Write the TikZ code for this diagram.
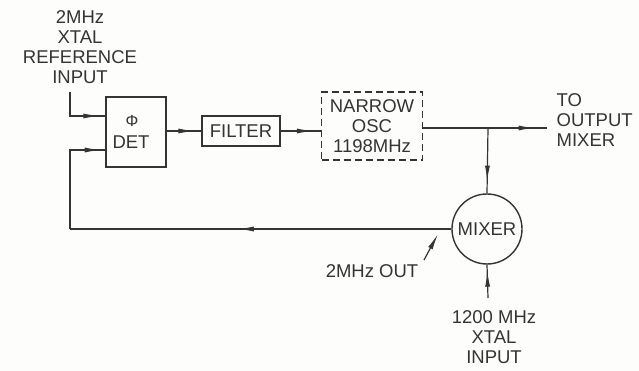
\documentclass[tikz,border=0pt]{standalone}
\usepackage{amsmath}
\usepackage{fontspec}
\setmainfont{Liberation Sans}
\usetikzlibrary{arrows.meta,decorations.markings}
\definecolor{ink}{RGB}{52,52,52}
\definecolor{paper}{RGB}{253,253,251}
\begin{document}
\begin{tikzpicture}[x=1pt,y=-1pt,
    line width=1.3pt,
    every node/.style={text=ink,font=\fontsize{18.5}{20}\selectfont},
    blk/.style={draw=ink,line width=1.4pt,inner sep=0pt,align=center},
    wire/.style={draw=ink,line width=1.2pt},
    ptip/.tip={Latex[length=16pt,width=5pt]},
    midarrow/.style={postaction={decorate},decoration={markings,
      mark=at position #1 with {\arrow[ink,line width=1.2pt]{Latex[length=16pt,width=5pt]}}}},
    lbl/.style={align=center,inner sep=0pt}]
  \useasboundingbox[fill=paper] (0,0) rectangle (639,371);
  % blocks
  \node[blk,minimum width=60pt,minimum height=70pt] (det) at (136,132)
    {\hspace*{-8pt}{\fontsize{16}{16}\selectfont Φ}\\[2pt]DET\hspace*{10pt}};
  \node[blk,minimum width=78pt,minimum height=30pt] (filter) at (241,131) {FILTER};
  \node[blk,dashed,dash pattern=on 7pt off 4pt,minimum width=101pt,
    minimum height=68pt] (osc) at (372,126) {NARROW\\OSC\\1198MHz};
  \node[blk,circle,minimum size=70pt] (mixer) at (487,229) {MIXER};
  % labels
  \node[lbl] (refin) at (80,47) {2MHz\\XTAL\\REFERENCE\\INPUT};
  \node[lbl,align=left,anchor=west] (tomix) at (556,120) {TO\\OUTPUT\\MIXER};
  \node[lbl] (xtalin) at (494,337) {1200 MHz\\XTAL\\INPUT};
  \node[lbl] (outlbl) at (372,271) {2MHz OUT};
  % free ends
  \coordinate (reftop) at (70,92);
  \coordinate (fbcorner) at (70,229);
  \coordinate (outend) at (547,128);
  \coordinate (branch) at (488,128);
  \coordinate (xtalbot) at (488,298);
  \coordinate (outtail) at (424,260);
  \coordinate (outhead) at (438,234);
  % connectors
  \draw[wire,midarrow=0.9] (reftop) |- ([yshift=16pt]det.west);
  \draw[wire,midarrow=0.8] (det.east |- filter) -- (filter.west);
  \draw[wire,midarrow=0.8] (filter.east) -- (filter.east -| osc.west);
  \draw[wire,midarrow=0.9] (osc.east |- outend) -- (outend);
  \draw[wire,midarrow=0.82] (branch) -- (mixer.north);
  \draw[wire,midarrow=0.82] (xtalbot) -- (mixer.south);
  \draw[wire,midarrow=0.56] (mixer.west) -- (fbcorner);
  \draw[wire,midarrow=0.96] (fbcorner) |- ([yshift=-18pt]det.west);
  \draw[wire,-ptip] (outtail) -- (outhead);
\end{tikzpicture}
\end{document}
